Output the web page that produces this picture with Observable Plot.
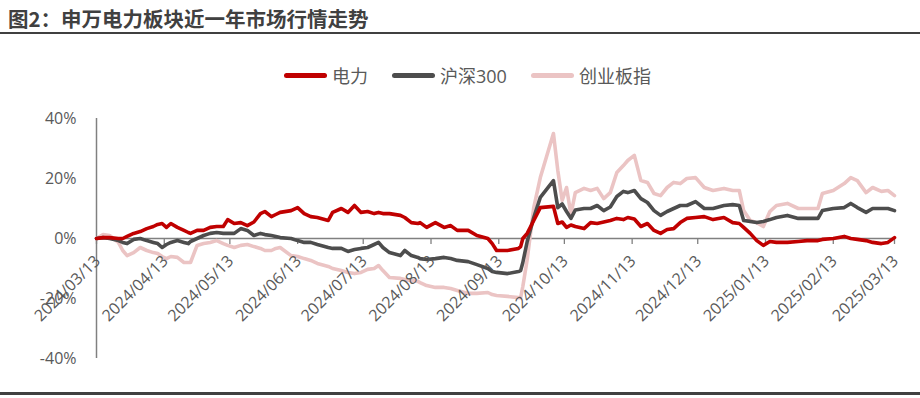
<!DOCTYPE html>
<html>
<head>
<meta charset="utf-8">
<script src="https://cdn.jsdelivr.net/npm/d3@7"></script>
<script src="https://cdn.jsdelivr.net/npm/@observablehq/plot@0.6"></script>
<style>
  html, body { margin: 0; padding: 0; background: #ffffff; }
  #wrap { position: relative; width: 920px; height: 398px; overflow: hidden; background: #fff; }
  #title { position: absolute; left: 8px; top: 4px; font-family: "Noto Sans CJK SC", sans-serif; font-weight: 700; font-size: 20.5px; color: #404040; white-space: nowrap; line-height: 28px; }
  #ruleTop { position: absolute; left: 0; top: 32px; width: 920px; height: 2px; background: #404040; }
  #ruleBottom { position: absolute; left: 0; top: 392px; width: 920px; height: 3px; background: #404040; }
  #legend { position: absolute; left: 284px; top: 62px; display: flex; align-items: center; font-family: "Open Sans", "Noto Sans CJK SC", sans-serif; font-size: 18px; color: #595959; white-space: nowrap; }
  .item { display: flex; align-items: center; margin-right: 24px; }
  .sw { width: 43px; height: 5px; border-radius: 3px; margin-right: 5px; }
  #chart { position: absolute; left: 0; top: 0; }
</style>
</head>
<body>
<div id="wrap">
  <div id="chart"></div>
  <div id="title"></div>
  <div id="ruleTop"></div>
  <div id="legend"></div>
  <div id="ruleBottom"></div>
</div>
<script>
const titleText = "图2：申万电力板块近一年市场行情走势";
const seriesNames = ["电力", "沪深300", "创业板指"];
const seriesColors = ["#C00000", "#4D4D4D", "#EBC4C4"];

const dates = [
  "2024-03-13","2024-03-16","2024-03-19","2024-03-23","2024-03-25","2024-03-27","2024-03-30","2024-04-02","2024-04-05","2024-04-08",
  "2024-04-10","2024-04-12","2024-04-14","2024-04-16","2024-04-19","2024-04-22","2024-04-24","2024-04-25","2024-04-28","2024-05-01",
  "2024-05-04","2024-05-07","2024-05-10","2024-05-12","2024-05-15","2024-05-18","2024-05-21","2024-05-24","2024-05-27","2024-05-29",
  "2024-06-01","2024-06-03","2024-06-05","2024-06-10","2024-06-13","2024-06-16","2024-06-19","2024-06-22","2024-06-27","2024-06-29",
  "2024-07-03","2024-07-06","2024-07-09","2024-07-12","2024-07-15","2024-07-18","2024-07-20","2024-07-22","2024-07-25","2024-07-30",
  "2024-08-01","2024-08-04","2024-08-07","2024-08-08","2024-08-11","2024-08-15","2024-08-19","2024-08-22","2024-08-25","2024-08-30",
  "2024-09-03","2024-09-08","2024-09-10","2024-09-12","2024-09-17","2024-09-22","2024-09-23","2024-09-24","2024-09-26","2024-09-29",
  "2024-10-02","2024-10-08","2024-10-10","2024-10-12","2024-10-14","2024-10-16","2024-10-18","2024-10-22","2024-10-25","2024-10-28",
  "2024-10-31","2024-11-03","2024-11-06","2024-11-09","2024-11-11","2024-11-14","2024-11-17","2024-11-20","2024-11-23","2024-11-26",
  "2024-11-29","2024-12-02","2024-12-05","2024-12-08","2024-12-12","2024-12-16","2024-12-20","2024-12-25","2024-12-29","2025-01-01",
  "2025-01-03","2025-01-06","2025-01-09","2025-01-12","2025-01-15","2025-01-18","2025-01-23","2025-01-28","2025-02-01","2025-02-06",
  "2025-02-08","2025-02-13","2025-02-18","2025-02-21","2025-02-24","2025-02-28","2025-03-03","2025-03-07","2025-03-10","2025-03-13"
];

const power = [
  0, 0.3, 0.3, 0, 0, 0.7, 1.7, 2.3, 3.3, 4,
  4.7, 5, 3.7, 5, 3.7, 2.7, 2, 1.7, 2.7, 2.7,
  3.7, 4, 4, 6.3, 5, 5.3, 4.3, 5.5, 8.3, 9,
  7.3, 8, 8.7, 9.3, 10.3, 8.3, 7.3, 7, 6, 8.7,
  10, 8.7, 11, 8.7, 9, 8.3, 8.7, 8.3, 8.3, 7.7,
  7, 5.3, 5, 5.3, 3.7, 5.3, 3.7, 4.3, 2.7, 2.7,
  1, 0, -1.7, -4, -4, -3.3, -2.7, 0, 1.7, 6,
  10.3, 10.7, 5, 5.5, 3.7, 4.5, 4, 3.3, 5.3, 5,
  5.5, 6, 6.7, 6.3, 7, 6.5, 4, 5, 2.7, 1.7,
  3, 3.3, 5.3, 6.7, 7, 7.3, 6.3, 7, 5.3, 5,
  3.7, 1.7, -0.7, -2.3, -1, -1.3, -1.3, -1, -0.7, -0.7,
  -0.3, 0, 0.7, 0, -0.3, -0.7, -1.3, -1.7, -1.3, 0.3
];

const csi300 = [
  0, 0.3, 0, -0.7, -1.3, -1.7, -0.3, 0, -0.7, -1.3,
  -1.7, -3, -2, -1.3, -0.7, -1.3, -1.7, -1, 0, 1,
  1.7, 2, 1.7, 1.7, 1.7, 3.3, 2.7, 1, 1.7, 1.3,
  1, 0.7, 0.3, 0, -0.7, -1.3, -1.3, -2, -3, -3.3,
  -3.3, -4.3, -3.7, -3.3, -3, -2, -1.3, -3, -4.7, -5.7,
  -4, -5.7, -6.3, -6.7, -7, -6.7, -6.3, -6.7, -7.3, -7.7,
  -8.7, -10, -11, -11.3, -11.7, -11, -10.7, -8, -1, 7,
  13.7, 19.3, 10.3, 11.5, 9, 6.7, 9.5, 10, 10, 11,
  9.3, 10.5, 14, 15.7, 15.3, 16, 13.3, 12, 9.3, 7.7,
  9, 10, 11, 11, 12.3, 10, 10, 11, 11.3, 11,
  6, 5.7, 5.3, 5.7, 6.3, 7, 7.7, 6.7, 6.7, 6.7,
  9.3, 10, 10.3, 11.7, 10.3, 8.7, 10, 10, 10, 9.3
];

const chinext = [
  0, 1.3, 1, -1.3, -4, -5.7, -4.7, -3, -4, -4.7,
  -5, -6, -6.7, -6, -6.3, -8, -8, -8, -2.3, -1.7,
  -1.3, -0.7, -1.7, -2.3, -3, -2.3, -2, -2.7, -3.3, -4,
  -4, -3.3, -3, -5.7, -6, -6.7, -7.3, -8.3, -9.3, -10,
  -10.7, -11.3, -11.7, -11.3, -10.3, -10, -9, -10.7, -13, -13.3,
  -13.7, -14, -14.3, -14.7, -15.7, -16.3, -16.3, -16.7, -17.3, -18.3,
  -18.3, -18, -18.7, -19, -19.3, -19.7, -19.7, -16, -7, 10.3,
  20.3, 35, 22.7, 12.7, 17, 8, 15.3, 16.7, 16, 16.7,
  13.3, 15.3, 22, 24.3, 26, 27.7, 19.3, 18.7, 15, 14.3,
  17, 18.7, 18.3, 20, 20.3, 17, 16, 16.7, 16, 16,
  9.3, 6, 5.3, 4, 9, 11, 11.7, 10, 10, 10,
  15, 16, 18.3, 20.3, 19.3, 15.3, 17, 15.7, 16, 14.3
];

const yTicks = [-40, -20, 0, 20, 40];
const xTickLabels = ["2024/03/13","2024/04/13","2024/05/13","2024/06/13","2024/07/13","2024/08/13","2024/09/13",
  "2024/10/13","2024/11/13","2024/12/13","2025/01/13","2025/02/13","2025/03/13"];

// build
const parse = d3.utcParse("%Y-%m-%d");
const parseTick = d3.utcParse("%Y/%m/%d");
const fmtTick = d3.utcFormat("%Y/%m/%d");
const valueArrays = [power, csi300, chinext];
const rows = [];
// draw order: 创业板指 bottom, 沪深300, 电力 top
[2, 1, 0].forEach(s => {
  dates.forEach((d, i) => rows.push({date: parse(d), value: valueArrays[s][i], series: seriesNames[s]}));
});
const tickDates = xTickLabels.map(parseTick);
const xDomain = [parse(dates[0]), parse(dates[dates.length - 1])];

document.getElementById("title").textContent = titleText;
const legend = document.getElementById("legend");
seriesNames.forEach((n, i) => {
  const it = document.createElement("div");
  it.className = "item";
  const sw = document.createElement("span");
  sw.className = "sw";
  sw.style.background = seriesColors[i];
  const tx = document.createElement("span");
  tx.textContent = n;
  it.appendChild(sw); it.appendChild(tx);
  legend.appendChild(it);
});

const chart = Plot.plot({
  width: 920,
  height: 398,
  marginLeft: 96,
  marginRight: 26,
  marginTop: 118,
  marginBottom: 40,
  style: {fontFamily: "'Open Sans', sans-serif", fontSize: "16px", color: "#595959", background: "transparent", overflow: "visible"},
  x: {type: "utc", domain: xDomain, axis: null},
  y: {domain: [yTicks[0], yTicks[yTicks.length - 1]], ticks: yTicks, tickFormat: d => d + "%", tickSize: 0, tickPadding: 20, label: null},
  color: {domain: seriesNames, range: seriesColors},
  marks: [
    Plot.ruleX([xDomain[0]], {y1: yTicks[0], y2: yTicks[yTicks.length - 1], stroke: "#808080", strokeWidth: 1.5}),
    Plot.ruleY([0], {stroke: "#808080", strokeWidth: 1.5}),
    Plot.ruleX(tickDates, {x: d => d, y1: 0, y2: -2, stroke: "#808080", strokeWidth: 1.3}),
    Plot.line(rows, {x: "date", y: "value", z: "series", stroke: "series", strokeWidth: 3.6, strokeLinejoin: "round", strokeLinecap: "round"}),
    Plot.text(tickDates, {x: d => d, y: () => 0, text: d => fmtTick(d), rotate: -45, textAnchor: "end", dx: 1, dy: 20, fontSize: 16, fill: "#595959"})
  ]
});
document.getElementById("chart").appendChild(chart);
</script>
</body>
</html>
